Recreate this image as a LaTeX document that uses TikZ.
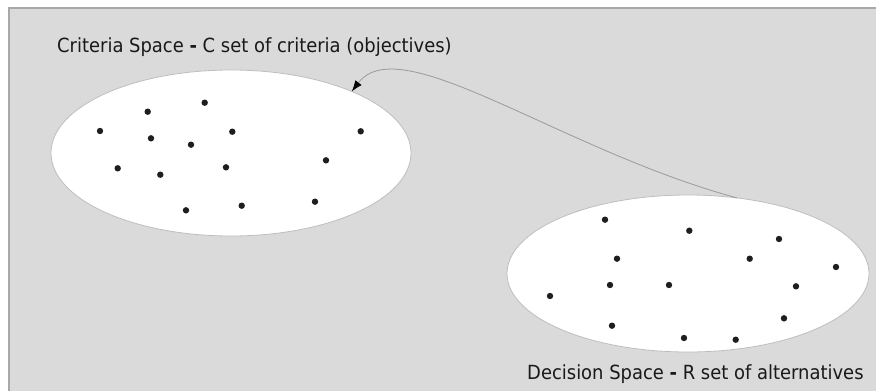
\documentclass[tikz,border=0pt]{standalone}
\usepackage{fontspec}
\setmainfont[FakeStretch=0.92]{DejaVu Sans}
\usetikzlibrary{shapes.geometric,arrows.meta}
\definecolor{panelgray}{HTML}{DADADA}
\definecolor{framegray}{HTML}{A8A8A8}
\definecolor{rimgray}{HTML}{BEBEBE}
\definecolor{linkgray}{HTML}{9A9A9A}
\definecolor{dotcol}{HTML}{1E1E1E}
\tikzset{
  space/.style={ellipse, fill=white, draw=rimgray, line width=0.8pt,
    inner sep=0pt, outer sep=0pt},
  caption/.style={anchor=base west, inner sep=0pt, font=\fontsize{19.5}{22}\selectfont, text=black!90},
  pt/.style={fill=dotcol},
  link/.style={draw=linkgray, line width=0.8pt, -{Latex[length=11pt,width=8pt,black]}}
}
\begin{document}
\begin{tikzpicture}[x=1pt,y=-1pt]
\useasboundingbox (0,0) rectangle (876,391);
% panel
\fill[panelgray] (9,8) rectangle (876,391);
\draw[framegray, line width=2pt] (9,391) -- (9,8) -- (876,8);

% the two spaces
\node[space, minimum width=360pt, minimum height=166pt] (crit) at (231,153) {};
\node[space, minimum width=362pt, minimum height=157pt] (dec) at (688,273.5) {};

% points of the criteria space
\foreach \x/\y in {147.7/111.7, 204.7/102.7, 100/131, 151/138.3, 191/144.7,
  232.3/131.7, 360.7/131.3, 117.7/168.3, 160.3/174.7, 226/167.3, 326/160.3,
  186/210.3, 241.7/205.7, 315/201.7}
  \fill[pt] (\x,\y) circle (3.2pt);

% points of the decision space
\foreach \x/\y in {605/219.7, 689.3/230.7, 779/239, 617/258.7, 749.7/258.7,
  836/267, 610/285, 669/285, 796/286.3, 550/296, 612/325.7, 784/318.3,
  684/338, 735.7/339.7}
  \fill[pt] (\x,\y) circle (3.2pt);

% labels
\node[caption] (critlabel) at (57,52.3) {Criteria Space {\bfseries -} C set of criteria (objectives)};
\node[caption] (declabel) at (527,379) {Decision Space {\bfseries -} R set of alternatives};

% mapping from decision space back to criteria space
\path[link] (dec.57) .. controls (560,150) and (400,28) .. (crit.27);
\end{tikzpicture}
\end{document}
